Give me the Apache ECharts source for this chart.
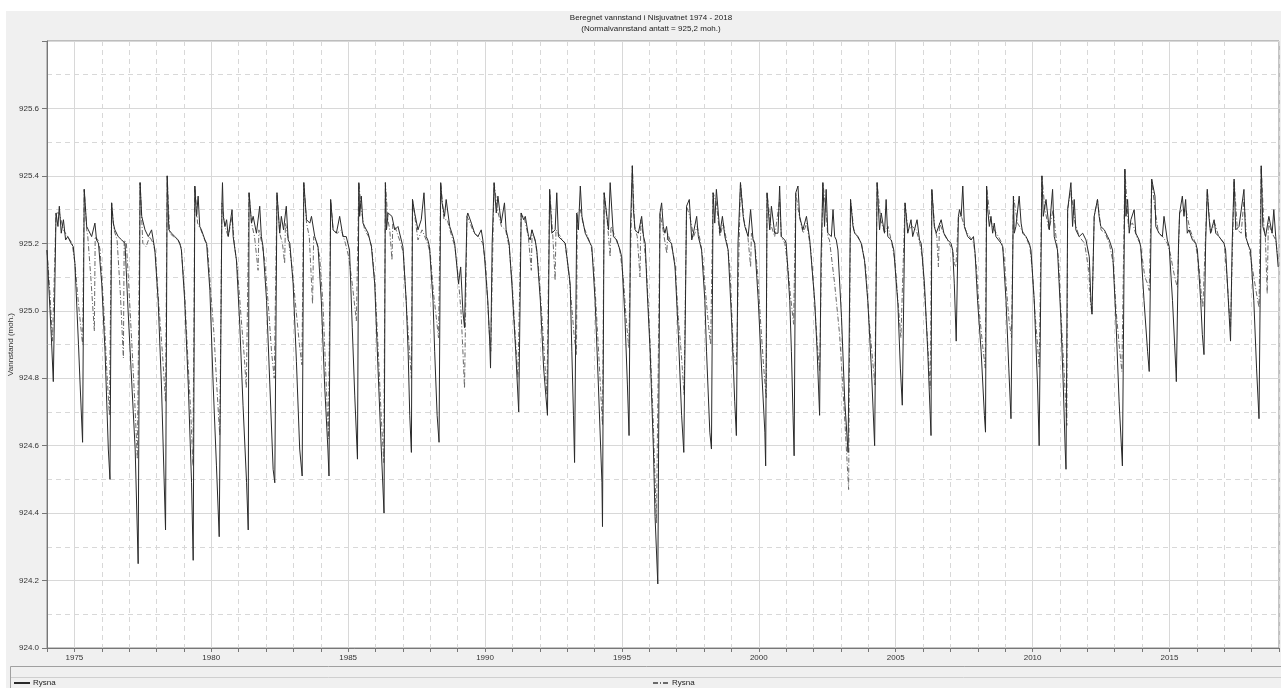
<!DOCTYPE html>
<html>
<head>
<meta charset="utf-8">
<script src="https://cdn.jsdelivr.net/npm/echarts@6/dist/echarts.min.js"></script>
<style>
  html, body { margin: 0; padding: 0; background: #fff; }
  #chart { position: absolute; left: 6px; top: 11px; width: 1275px; height: 677px; }
</style>
</head>
<body>
<div id="chart"></div>
<script>
// Beregnet vannstand (moh.), [decimal year, level]
const solid1974_1985 = [
  [1974.00,925.18],[1974.08,925.05],[1974.16,924.92],[1974.23,924.79],[1974.33,925.29],[1974.40,925.25],[1974.45,925.31],[1974.52,925.23],[1974.60,925.27],[1974.68,925.21],[1974.76,925.22],[1974.88,925.20],
  [1974.96,925.19],[1975.02,925.14],[1975.15,924.90],[1975.21,924.78],[1975.30,924.61],[1975.36,925.36],[1975.45,925.25],[1975.51,925.24],[1975.63,925.22],[1975.75,925.26],[1975.81,925.21],
  [1975.88,925.20],[1976.00,925.08],[1976.12,924.88],[1976.24,924.59],[1976.30,924.50],[1976.36,925.32],[1976.42,925.26],[1976.48,925.24],[1976.60,925.22],[1976.73,925.21],[1976.85,925.20],
  [1976.95,925.02],[1977.10,924.78],[1977.22,924.59],[1977.33,924.25],[1977.40,925.38],[1977.46,925.28],[1977.58,925.24],[1977.70,925.22],[1977.82,925.24],[1977.88,925.21],
  [1977.94,925.18],[1978.06,925.03],[1978.18,924.78],[1978.33,924.35],[1978.39,925.40],[1978.45,925.24],[1978.55,925.23],[1978.67,925.22],[1978.79,925.21],[1978.85,925.20],
  [1978.91,925.18],[1979.03,925.03],[1979.16,924.78],[1979.28,924.49],[1979.34,924.26],[1979.40,925.37],[1979.46,925.28],[1979.52,925.34],[1979.58,925.25],[1979.64,925.24],[1979.77,925.21],
  [1979.83,925.20],[1979.95,925.06],[1980.07,924.78],[1980.19,924.54],[1980.29,924.33],[1980.39,925.32],[1980.41,925.38],[1980.44,925.28],[1980.50,925.25],[1980.56,925.27],[1980.62,925.22],[1980.76,925.30],[1980.80,925.22],
  [1980.92,925.15],[1981.04,924.96],[1981.16,924.72],[1981.29,924.49],[1981.35,924.35],[1981.38,925.35],[1981.47,925.26],[1981.53,925.28],[1981.65,925.23],[1981.77,925.31],[1981.83,925.22],
  [1981.89,925.19],[1982.02,925.03],[1982.14,924.78],[1982.26,924.53],[1982.32,924.49],[1982.40,925.35],[1982.50,925.23],[1982.56,925.28],[1982.64,925.24],[1982.74,925.31],[1982.81,925.21],
  [1982.87,925.20],[1982.99,925.08],[1983.11,924.85],[1983.23,924.59],[1983.32,924.51],[1983.38,925.38],[1983.48,925.27],[1983.60,925.26],[1983.66,925.28],[1983.78,925.22],
  [1983.90,925.19],[1984.02,925.03],[1984.14,924.78],[1984.26,924.59],[1984.30,924.51],[1984.36,925.33],[1984.45,925.24],[1984.57,925.23],[1984.69,925.28],[1984.81,925.22],[1984.93,925.22],
  [1985.05,925.18],[1985.15,924.95],[1985.24,924.75],[1985.34,924.56],[1985.39,925.38],[1985.42,925.28],[1985.48,925.34],[1985.54,925.26],[1985.60,925.25],[1985.73,925.23],[1985.79,925.21]
];
const solid1986_1996 = [
  [1985.85,925.19],[1985.97,925.08],[1986.09,924.83],[1986.21,924.59],[1986.31,924.40],[1986.36,925.38],[1986.40,925.24],[1986.46,925.29],[1986.60,925.28],[1986.70,925.24],[1986.82,925.25],[1986.94,925.21],
  [1987.00,925.19],[1987.12,925.03],[1987.19,924.88],[1987.25,924.69],[1987.31,924.58],[1987.35,925.33],[1987.43,925.29],[1987.55,925.24],[1987.67,925.27],[1987.77,925.35],[1987.85,925.22],[1987.91,925.21],
  [1987.97,925.19],[1988.10,925.03],[1988.16,924.88],[1988.25,924.69],[1988.32,924.61],[1988.38,925.38],[1988.43,925.32],[1988.52,925.28],[1988.58,925.33],[1988.71,925.25],[1988.83,925.22],[1988.89,925.20],
  [1988.95,925.15],[1989.03,925.08],[1989.11,925.13],[1989.19,925.00],[1989.25,924.95],[1989.34,925.28],[1989.37,925.29],[1989.50,925.26],[1989.62,925.23],[1989.74,925.22],[1989.86,925.24],[1989.92,925.21],
  [1989.98,925.16],[1990.10,925.03],[1990.17,924.91],[1990.20,924.83],[1990.26,925.20],[1990.33,925.38],[1990.41,925.29],[1990.47,925.34],[1990.59,925.26],[1990.71,925.32],[1990.77,925.24],
  [1990.88,925.20],[1990.98,925.08],[1991.12,924.88],[1991.23,924.70],[1991.32,925.29],[1991.41,925.27],[1991.47,925.28],[1991.59,925.22],[1991.65,925.21],[1991.71,925.24],[1991.83,925.21],
  [1991.89,925.18],[1992.02,925.03],[1992.14,924.83],[1992.28,924.69],[1992.36,925.36],[1992.44,925.23],[1992.56,925.24],[1992.62,925.35],[1992.68,925.22],[1992.81,925.21],[1992.93,925.20],
  [1992.99,925.20],[1993.11,925.08],[1993.17,924.88],[1993.23,924.69],[1993.27,924.55],[1993.35,925.29],[1993.41,925.24],[1993.48,925.37],[1993.54,925.28],[1993.66,925.23],[1993.78,925.21],[1993.90,925.19],
  [1994.02,925.03],[1994.14,924.78],[1994.27,924.49],[1994.29,924.36],[1994.35,925.35],[1994.45,925.28],[1994.51,925.24],[1994.57,925.38],[1994.69,925.22],[1994.81,925.21],[1994.93,925.18],
  [1994.99,925.16],[1995.11,924.98],[1995.20,924.78],[1995.26,924.63],[1995.31,925.24],[1995.38,925.43],[1995.42,925.30],[1995.48,925.24],[1995.60,925.23],[1995.72,925.28],[1995.79,925.22],[1995.85,925.20],
  [1995.91,925.08],[1996.03,924.88],[1996.15,924.59],[1996.21,924.39],[1996.31,924.19],[1996.39,925.29],[1996.45,925.32],[1996.51,925.25],[1996.57,925.23],[1996.63,925.25],[1996.69,925.21]
];
const solid1997_2007 = [
  [1996.81,925.20],[1996.94,925.13],[1997.06,924.93],[1997.18,924.69],[1997.26,924.58],[1997.36,925.31],[1997.46,925.33],[1997.55,925.21],[1997.61,925.23],[1997.73,925.28],[1997.79,925.22],[1997.85,925.20],
  [1997.91,925.18],[1998.03,925.03],[1998.09,924.88],[1998.21,924.64],[1998.27,924.59],[1998.33,925.35],[1998.39,925.26],[1998.45,925.36],[1998.58,925.23],[1998.67,925.28],[1998.76,925.22],
  [1998.88,925.18],[1999.00,924.98],[1999.12,924.73],[1999.18,924.63],[1999.24,925.20],[1999.33,925.38],[1999.43,925.28],[1999.49,925.25],[1999.61,925.22],[1999.70,925.30],[1999.79,925.21],
  [1999.85,925.20],[1999.98,925.03],[2000.10,924.83],[2000.22,924.64],[2000.25,924.54],[2000.30,925.35],[2000.40,925.24],[2000.46,925.31],[2000.58,925.23],[2000.70,925.23],[2000.76,925.37],[2000.82,925.22],[2000.95,925.21],
  [2001.00,925.20],[2001.13,925.03],[2001.19,924.88],[2001.25,924.69],[2001.29,924.57],[2001.35,925.35],[2001.43,925.37],[2001.49,925.28],[2001.61,925.24],[2001.74,925.28],[2001.86,925.21],
  [2001.92,925.15],[2002.04,925.03],[2002.13,924.88],[2002.22,924.69],[2002.27,925.15],[2002.34,925.38],[2002.40,925.25],[2002.46,925.36],[2002.52,925.23],[2002.65,925.22],[2002.71,925.30],[2002.77,925.22],[2002.83,925.21],
  [2002.89,925.18],[2003.02,924.98],[2003.14,924.73],[2003.26,924.58],[2003.35,925.33],[2003.44,925.25],[2003.50,925.23],[2003.62,925.22],[2003.74,925.20],
  [2003.86,925.15],[2003.98,925.03],[2004.11,924.83],[2004.23,924.60],[2004.32,925.38],[2004.41,925.24],[2004.47,925.29],[2004.59,925.23],[2004.65,925.33],[2004.71,925.22],[2004.84,925.21],
  [2004.93,925.18],[2005.08,925.02],[2005.17,924.83],[2005.24,924.72],[2005.34,925.32],[2005.44,925.23],[2005.56,925.27],[2005.62,925.22],[2005.78,925.27],[2005.87,925.21],
  [2005.93,925.20],[2006.05,925.08],[2006.17,924.88],[2006.29,924.63],[2006.32,925.36],[2006.41,925.25],[2006.48,925.23],[2006.66,925.27],[2006.76,925.23],[2006.90,925.21],[2007.02,925.20],
  [2007.08,925.18],[2007.14,925.08],[2007.21,924.91],[2007.29,925.28],[2007.33,925.30],[2007.39,925.28],[2007.45,925.37],[2007.51,925.25],[2007.63,925.22],[2007.75,925.21],[2007.84,925.22]
];
const solid2008_2018 = [
  [2007.90,925.17],[2007.99,925.03],[2008.12,924.88],[2008.24,924.69],[2008.28,924.64],[2008.32,925.37],[2008.36,925.30],[2008.42,925.25],[2008.48,925.28],[2008.54,925.23],[2008.60,925.26],[2008.66,925.22],[2008.85,925.20],
  [2008.91,925.19],[2009.03,925.03],[2009.13,924.83],[2009.21,924.68],[2009.30,925.34],[2009.33,925.23],[2009.39,925.25],[2009.51,925.34],[2009.58,925.26],[2009.64,925.23],[2009.76,925.22],[2009.88,925.20],
  [2009.94,925.18],[2010.06,925.03],[2010.18,924.78],[2010.24,924.60],[2010.34,925.40],[2010.39,925.28],[2010.49,925.33],[2010.61,925.24],[2010.73,925.36],[2010.79,925.22],[2010.85,925.20],
  [2010.91,925.18],[2011.03,924.98],[2011.12,924.78],[2011.19,924.59],[2011.22,924.53],[2011.28,925.30],[2011.40,925.38],[2011.46,925.25],[2011.52,925.33],[2011.58,925.24],[2011.70,925.22],[2011.83,925.23],[2011.95,925.21],
  [2012.07,925.16],[2012.13,925.03],[2012.17,924.99],[2012.25,925.28],[2012.37,925.33],[2012.43,925.28],[2012.49,925.25],[2012.62,925.24],[2012.74,925.22],[2012.80,925.21],
  [2012.92,925.18],[2013.04,924.98],[2013.16,924.73],[2013.28,924.54],[2013.37,925.42],[2013.41,925.28],[2013.47,925.33],[2013.53,925.23],[2013.59,925.27],[2013.71,925.30],[2013.77,925.23],[2013.89,925.21],
  [2013.95,925.19],[2014.07,925.03],[2014.20,924.88],[2014.26,924.82],[2014.35,925.39],[2014.47,925.34],[2014.50,925.25],[2014.62,925.23],[2014.74,925.22],[2014.80,925.28],[2014.92,925.21],
  [2014.99,925.19],[2015.11,925.03],[2015.23,924.83],[2015.25,924.79],[2015.33,925.20],[2015.37,925.29],[2015.47,925.34],[2015.53,925.28],[2015.59,925.33],[2015.65,925.23],[2015.71,925.24],[2015.84,925.21],[2015.96,925.20],
  [2016.02,925.18],[2016.14,925.03],[2016.20,924.93],[2016.26,924.87],[2016.32,925.20],[2016.38,925.36],[2016.44,925.28],[2016.50,925.23],[2016.63,925.27],[2016.69,925.23],[2016.81,925.22],[2016.99,925.20],
  [2017.05,925.18],[2017.15,925.03],[2017.23,924.91],[2017.29,925.20],[2017.36,925.39],[2017.42,925.24],[2017.54,925.25],[2017.72,925.36],[2017.78,925.22],[2017.90,925.19],
  [2017.96,925.18],[2018.08,925.03],[2018.18,924.83],[2018.27,924.68],[2018.33,925.20],[2018.35,925.43],[2018.41,925.25],[2018.51,925.22],[2018.63,925.28],[2018.75,925.23],[2018.81,925.30],[2018.88,925.22],[2018.97,925.13]
];

const dashed1974_1985 = [
  [1974.00,925.18],[1974.10,925.06],[1974.20,924.91],[1974.33,925.29],[1974.45,925.29],[1974.60,925.24],[1974.75,925.22],[1974.92,925.20],
  [1975.02,925.14],[1975.15,925.02],[1975.30,924.90],[1975.36,925.36],[1975.45,925.24],[1975.49,925.22],[1975.60,925.10],[1975.73,924.94],[1975.76,925.22],[1975.86,925.21],
  [1975.94,925.18],[1976.08,925.00],[1976.18,924.83],[1976.28,924.69],[1976.36,925.32],[1976.45,925.24],[1976.56,925.21],[1976.68,925.05],[1976.79,924.86],[1976.82,925.21],[1976.90,925.20],
  [1976.97,925.10],[1977.10,924.90],[1977.20,924.74],[1977.30,924.56],[1977.40,925.38],[1977.50,925.20],[1977.62,925.19],[1977.75,925.22],[1977.88,925.20],
  [1977.96,925.17],[1978.10,925.00],[1978.22,924.87],[1978.33,924.73],[1978.39,925.40],[1978.48,925.23],[1978.62,925.22],[1978.78,925.21],[1978.90,925.19],
  [1979.03,925.05],[1979.15,924.85],[1979.25,924.70],[1979.33,924.54],[1979.40,925.37],[1979.50,925.26],[1979.62,925.24],[1979.76,925.21],[1979.86,925.19],
  [1979.98,925.06],[1980.10,924.93],[1980.20,924.78],[1980.31,924.63],[1980.39,925.32],[1980.50,925.25],[1980.62,925.22],[1980.76,925.28],[1980.84,925.20],
  [1980.95,925.13],[1981.10,924.97],[1981.20,924.87],[1981.28,924.77],[1981.38,925.35],[1981.47,925.26],[1981.58,925.22],[1981.71,925.12],[1981.74,925.24],[1981.85,925.20],
  [1981.95,925.15],[1982.10,925.00],[1982.20,924.88],[1982.30,924.80],[1982.40,925.35],[1982.50,925.23],[1982.60,925.20],[1982.68,925.14],[1982.71,925.26],[1982.84,925.20],
  [1982.96,925.12],[1983.10,925.00],[1983.22,924.90],[1983.31,924.84],[1983.38,925.38],[1983.48,925.26],[1983.58,925.22],[1983.70,925.02],[1983.74,925.22],[1983.86,925.20],
  [1983.96,925.16],[1984.08,925.02],[1984.18,924.82],[1984.28,924.62],[1984.36,925.33],[1984.45,925.24],[1984.60,925.23],[1984.75,925.24],[1984.90,925.20],
  [1985.02,925.16],[1985.15,925.08],[1985.30,924.97],[1985.39,925.38],[1985.48,925.30],[1985.60,925.24],[1985.75,925.22],[1985.86,925.19]
];
const dashed1986_1996 = [
  [1985.98,925.08],[1986.10,924.88],[1986.20,924.70],[1986.30,924.55],[1986.36,925.38],[1986.45,925.27],[1986.52,925.24],[1986.60,925.15],[1986.63,925.26],[1986.75,925.24],[1986.92,925.20],
  [1987.02,925.17],[1987.14,925.00],[1987.24,924.88],[1987.31,924.80],[1987.35,925.33],[1987.45,925.27],[1987.55,925.21],[1987.70,925.24],[1987.90,925.20],
  [1988.00,925.17],[1988.12,925.05],[1988.22,924.98],[1988.30,924.92],[1988.38,925.38],[1988.50,925.27],[1988.62,925.27],[1988.75,925.23],[1988.90,925.19],
  [1989.02,925.10],[1989.12,925.00],[1989.18,924.90],[1989.25,924.77],[1989.34,925.28],[1989.45,925.26],[1989.60,925.23],[1989.75,925.22],[1989.92,925.20],
  [1990.02,925.14],[1990.10,925.02],[1990.16,924.93],[1990.21,924.88],[1990.33,925.38],[1990.45,925.30],[1990.60,925.25],[1990.75,925.24],[1990.88,925.19],
  [1991.00,925.07],[1991.10,924.93],[1991.20,924.80],[1991.32,925.29],[1991.45,925.27],[1991.58,925.22],[1991.69,925.12],[1991.72,925.24],[1991.85,925.20],
  [1991.95,925.13],[1992.08,924.98],[1992.18,924.85],[1992.26,924.75],[1992.36,925.36],[1992.47,925.23],[1992.56,925.09],[1992.59,925.24],[1992.75,925.22],[1992.92,925.20],
  [1993.05,925.12],[1993.18,925.00],[1993.26,924.92],[1993.34,924.87],[1993.37,925.29],[1993.48,925.30],[1993.60,925.25],[1993.75,925.22],[1993.88,925.19],
  [1993.98,925.12],[1994.10,924.95],[1994.20,924.80],[1994.29,924.66],[1994.35,925.35],[1994.47,925.26],[1994.57,925.16],[1994.60,925.25],[1994.75,925.22],[1994.92,925.18],
  [1995.05,925.10],[1995.15,924.98],[1995.25,924.89],[1995.38,925.43],[1995.46,925.25],[1995.56,925.22],[1995.66,925.10],[1995.69,925.27],[1995.80,925.21],
  [1995.90,925.12],[1996.02,924.92],[1996.14,924.68],[1996.26,924.37],[1996.39,925.29],[1996.50,925.24],[1996.64,925.17],[1996.67,925.23],[1996.80,925.20]
];
const dashed1997_2007 = [
  [1996.94,925.14],[1997.06,924.98],[1997.18,924.86],[1997.27,924.75],[1997.36,925.31],[1997.48,925.28],[1997.62,925.22],[1997.75,925.25],[1997.88,925.20],
  [1997.96,925.15],[1998.08,925.03],[1998.17,924.95],[1998.24,924.90],[1998.33,925.35],[1998.45,925.32],[1998.58,925.22],[1998.70,925.26],[1998.84,925.20],
  [1998.94,925.13],[1999.03,924.96],[1999.07,924.87],[1999.18,924.84],[1999.33,925.38],[1999.45,925.27],[1999.60,925.22],[1999.70,925.13],[1999.73,925.23],[1999.85,925.20],
  [1999.95,925.12],[2000.07,924.96],[2000.18,924.83],[2000.27,924.74],[2000.30,925.35],[2000.42,925.26],[2000.58,925.22],[2000.76,925.33],[2000.82,925.22],[2000.95,925.20],
  [2001.05,925.14],[2001.15,925.05],[2001.27,924.96],[2001.35,925.35],[2001.48,925.28],[2001.62,925.23],[2001.75,925.26],[2001.90,925.18],
  [2002.02,925.05],[2002.12,924.92],[2002.22,924.82],[2002.34,925.38],[2002.45,925.30],[2002.52,925.22],
  [2002.58,925.21],[2002.77,925.08],[2002.95,924.93],[2003.13,924.69],[2003.28,924.47],[2003.35,925.33],[2003.47,925.24],[2003.60,925.22],[2003.75,925.20],
  [2003.90,925.13],[2004.02,924.98],[2004.15,924.86],[2004.24,924.78],[2004.32,925.38],[2004.45,925.27],[2004.60,925.23],[2004.72,925.25],[2004.86,925.20],
  [2004.97,925.15],[2005.08,925.03],[2005.19,924.92],[2005.34,925.32],[2005.45,925.24],[2005.60,925.25],[2005.75,925.24],[2005.88,925.20],
  [2005.97,925.16],[2006.08,925.02],[2006.17,924.90],[2006.26,924.77],[2006.32,925.36],[2006.42,925.25],[2006.50,925.22],[2006.56,925.13],[2006.60,925.26],[2006.75,925.23],[2006.95,925.20],
  [2007.08,925.18],[2007.14,925.14],[2007.20,925.13],[2007.29,925.28],[2007.40,925.28],[2007.55,925.24],[2007.70,925.22],[2007.85,925.20]
];
const dashed2008_2018 = [
  [2007.95,925.13],[2008.05,925.00],[2008.17,924.90],[2008.27,924.83],[2008.32,925.37],[2008.45,925.27],[2008.60,925.24],[2008.75,925.22],[2008.88,925.20],
  [2008.96,925.16],[2009.06,925.05],[2009.14,924.97],[2009.23,924.92],[2009.30,925.34],[2009.45,925.26],[2009.60,925.24],[2009.75,925.22],[2009.90,925.19],
  [2009.99,925.12],[2010.08,925.00],[2010.18,924.90],[2010.24,924.83],[2010.34,925.40],[2010.45,925.30],[2010.60,925.24],[2010.75,925.30],[2010.88,925.20],
  [2010.95,925.15],[2011.05,924.97],[2011.15,924.82],[2011.25,924.66],[2011.28,925.30],[2011.40,925.36],[2011.55,925.26],[2011.70,925.22],[2011.90,925.20],
  [2012.05,925.12],[2012.12,925.02],[2012.17,924.99],[2012.25,925.28],[2012.37,925.33],[2012.50,925.24],[2012.65,925.23],[2012.80,925.20],
  [2012.95,925.14],[2013.05,925.00],[2013.16,924.90],[2013.26,924.82],[2013.37,925.42],[2013.50,925.25],[2013.65,925.26],[2013.80,925.22],[2013.92,925.20],
  [2014.00,925.16],[2014.10,925.10],[2014.20,925.08],[2014.26,925.06],[2014.35,925.39],[2014.47,925.30],[2014.60,925.23],[2014.75,925.22],[2014.92,925.20],
  [2015.03,925.17],[2015.14,925.12],[2015.22,925.09],[2015.29,925.07],[2015.37,925.29],[2015.47,925.30],[2015.60,925.30],[2015.75,925.24],[2015.95,925.20],
  [2016.08,925.13],[2016.15,925.06],[2016.22,925.01],[2016.38,925.36],[2016.50,925.23],[2016.65,925.26],[2016.80,925.22],[2017.00,925.20],
  [2017.10,925.10],[2017.18,925.00],[2017.23,924.95],[2017.36,925.39],[2017.48,925.24],[2017.62,925.23],[2017.72,925.33],[2017.82,925.21],[2017.90,925.19],
  [2018.00,925.14],[2018.08,925.10],[2018.18,925.05],[2018.27,925.01],[2018.35,925.43],[2018.45,925.25],[2018.50,925.22],[2018.57,925.05],[2018.61,925.26],[2018.75,925.23],[2018.88,925.21],[2018.97,925.15]
];

const seriesNames = ['Rysna', 'Rysna'];
const titleText = 'Beregnet vannstand i Nisjuvatnet 1974 - 2018';
const subText = '(Normalvannstand antatt = 925,2 moh.)';
const yearMin = 1974, yearMax = 2019;
const levelMin = 924.0, levelMax = 925.8;

const solidData = [].concat(solid1974_1985, solid1986_1996, solid1997_2007, solid2008_2018);
const dashedData = [].concat(dashed1974_1985, dashed1986_1996, dashed1997_2007, dashed2008_2018);

const font = 'Liberation Sans, Arial, sans-serif';
const gridGrey = '#d8d8d8';
const clear = 'rgba(0,0,0,0)';

const chart = echarts.init(document.getElementById('chart'));

chart.setOption({
  animation: false,
  backgroundColor: '#f0f0f0',
  textStyle: { fontFamily: font },
  title: {
    text: titleText,
    subtext: subText,
    left: 645,
    textAlign: 'center',
    top: 2,
    padding: 0,
    itemGap: 1,
    textStyle: { fontSize: 8, fontWeight: 'normal', color: '#222', lineHeight: 10 },
    subtextStyle: { fontSize: 8, color: '#222', lineHeight: 10 }
  },
  grid: {
    left: 41, right: 2, top: 30, bottom: 40,
    containLabel: false, outerBoundsMode: 'none',
    show: true, backgroundColor: '#fff', borderColor: '#8a8a8a', borderWidth: 1
  },
  legend: [
    {
      data: ['A'], left: 7, top: 668, padding: 0, itemWidth: 16, itemHeight: 8, itemGap: 0,
      formatter: () => seriesNames[0],
      itemStyle: { opacity: 0 },
      textStyle: { fontSize: 8, color: '#222', padding: [0, 0, 0, -2] }
    },
    {
      data: ['B'], left: 646, top: 668, padding: 0, itemWidth: 16, itemHeight: 8, itemGap: 0,
      formatter: () => seriesNames[1],
      itemStyle: { opacity: 0 },
      textStyle: { fontSize: 8, color: '#222', padding: [0, 0, 0, -2] }
    }
  ],
  xAxis: [
    {
      type: 'value', min: yearMin, max: yearMax, interval: 1,
      axisLine: { lineStyle: { color: '#777' } },
      axisTick: { length: 4, lineStyle: { color: '#777' } },
      axisLabel: {
        fontSize: 8, color: '#333', margin: 6,
        formatter: v => (v % 5 === 0 ? String(v) : '')
      },
      splitLine: { show: true, lineStyle: { color: gridGrey, type: [5, 4], width: 1 } }
    },
    {
      type: 'value', min: yearMin, max: yearMax, interval: 1, position: 'top',
      axisLine: { show: false }, axisTick: { show: false }, axisLabel: { show: false },
      splitLine: {
        show: true, showMinLine: true, showMaxLine: true,
        lineStyle: { color: [clear, gridGrey, clear, clear, clear], type: 'solid', width: 1 }
      }
    }
  ],
  yAxis: {
    type: 'value', min: levelMin, max: levelMax, interval: 0.2,
    name: 'Vannstand (moh.)', nameLocation: 'middle', nameGap: 32, nameMoveOverlap: false,
    nameTextStyle: { fontSize: 8, color: '#333' },
    axisLine: { show: true, lineStyle: { color: '#777' } },
    axisTick: { show: true, length: 5, lineStyle: { color: '#777' } },
    axisLabel: {
      fontSize: 8, color: '#333', margin: 8,
      formatter: v => (v > levelMax - 0.01 ? '' : v.toFixed(1))
    },
    splitLine: { show: true, lineStyle: { color: gridGrey, width: 1 } },
    minorTick: { show: false, splitNumber: 2 },
    minorSplitLine: { show: true, lineStyle: { color: gridGrey, type: [5, 4], width: 1 } }
  },
  series: [
    {
      name: 'B', type: 'line', data: dashedData, symbol: 'none',
      lineStyle: { color: '#6a6a6a', width: 1, type: [5, 2, 1, 2] },
      itemStyle: { color: '#6a6a6a' }, z: 2
    },
    {
      name: 'A', type: 'line', data: solidData, symbol: 'none',
      lineStyle: { color: '#2a2a2a', width: 1 },
      itemStyle: { color: '#2a2a2a' }, z: 3
    }
  ],
  graphic: [
    { type: 'rect', shape: { x: 4.5, y: 655.5, width: 1272, height: 30 }, style: { fill: 'none', stroke: '#a0a0a0', lineWidth: 1 }, silent: true },
    { type: 'line', shape: { x1: 5, y1: 666.5, x2: 1275, y2: 666.5 }, style: { stroke: '#cfcfcf', lineWidth: 1 }, silent: true }
  ]
});
</script>
</body>
</html>
